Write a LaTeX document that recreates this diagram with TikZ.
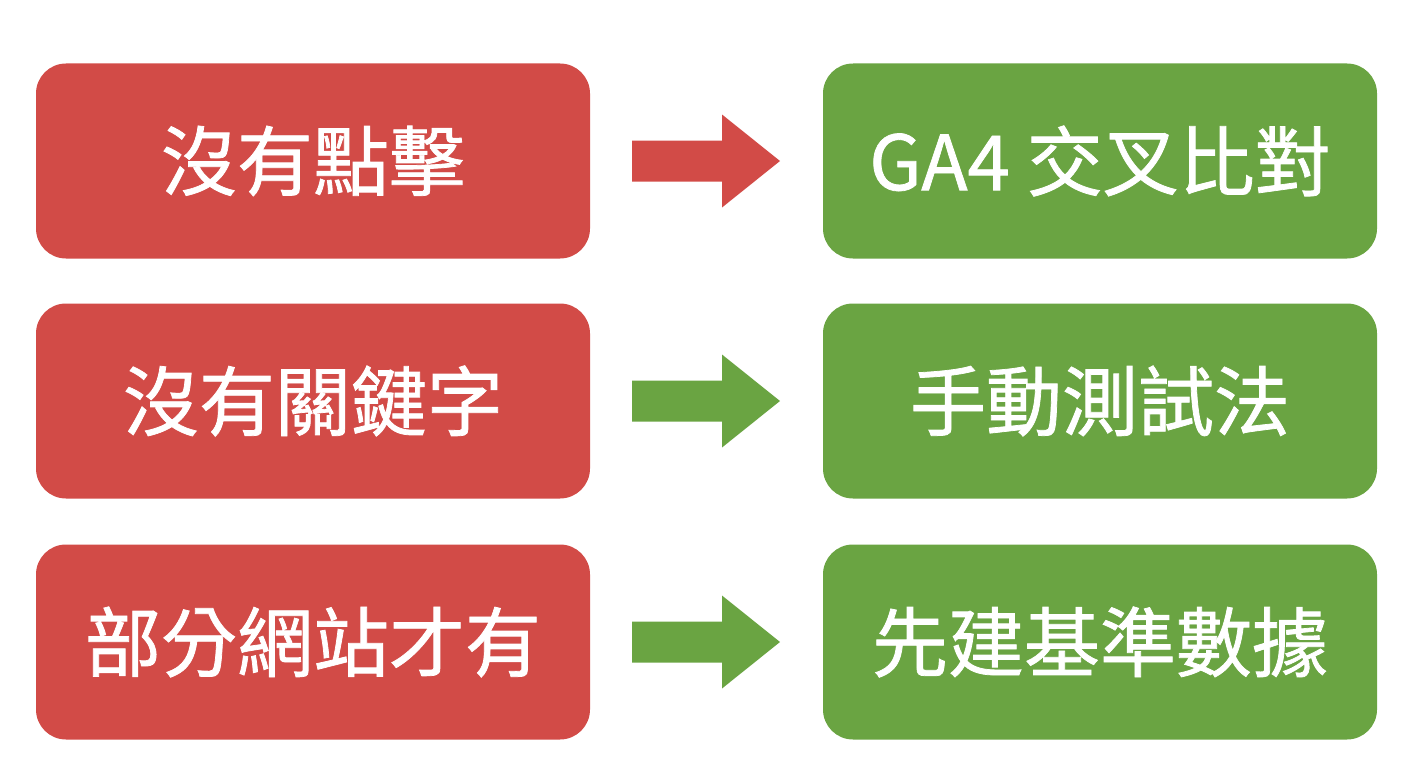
\documentclass[tikz,border=0pt]{standalone}
\usepackage{fontspec}
\newfontfamily\cjk{Noto Sans CJK TC}[FakeBold=1]
\usetikzlibrary{calc}
\definecolor{redc}{HTML}{D24B47}
\definecolor{greenc}{HTML}{6AA442}
\tikzset{
  box/.style={rounded corners=30pt, minimum width=554pt, minimum height=195pt, inner sep=0pt, outer sep=0pt, text=white, font=\cjk\fontsize{76}{90}\selectfont},
  badbox/.style={box, fill=redc},
  goodbox/.style={box, fill=greenc},
}
\newcommand{\bigarrow}[3]{%
  \fill[#3] ($(#1.east)+(42,-20.5)$) -- ($(#1.east)+(132,-20.5)$) -- ($(#1.east)+(132,-46.5)$)
    -- ($(#1.east)+(190,0)$) -- ($(#1.east)+(132,46.5)$) -- ($(#1.east)+(132,20.5)$)
    -- ($(#1.east)+(42,20.5)$) -- cycle;}
\begin{document}
\begin{tikzpicture}[x=1pt,y=-1pt]
\useasboundingbox (0,0) rectangle (1408,768);
\node[badbox] (L1) at (313,161) {沒有點擊};
\node[badbox] (L2) at (313,401) {沒有關鍵字};
\node[badbox] (L3) at (313,642) {部分網站才有};
\node[goodbox] (R1) at (1100,161) {GA4 交叉比對};
\node[goodbox] (R2) at (1100,401) {手動測試法};
\node[goodbox] (R3) at (1100,642) {先建基準數據};
\bigarrow{L1}{R1}{redc}
\bigarrow{L2}{R2}{greenc}
\bigarrow{L3}{R3}{greenc}
\end{tikzpicture}
\end{document}
